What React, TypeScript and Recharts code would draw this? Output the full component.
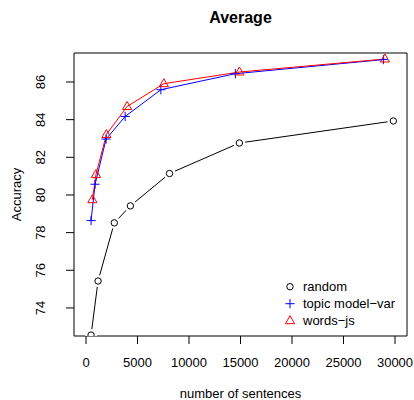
import React from 'react';
import { ComposedChart, Line, XAxis, YAxis, ReferenceArea } from 'recharts';

// number of sentences (x) and accuracy (y) per method
const randomX = [490, 1170, 2750, 4310, 8110, 14890, 29840];
const randomAcc = [72.56, 75.43, 78.52, 79.42, 81.14, 82.76, 83.93];
const topicX = [490, 880, 1950, 3800, 7270, 14500, 28870];
const topicAcc = [78.64, 80.57, 82.97, 84.17, 85.59, 86.44, 87.19];
const wordsX = [620, 970, 1980, 3990, 7560, 14890, 29020];
const wordsAcc = [79.75, 81.09, 83.21, 84.7, 85.91, 86.53, 87.22];

const xTicks = [0, 5000, 10000, 15000, 20000, 25000, 30000];
const yTicks = [74, 76, 78, 80, 82, 84, 86];
const xDomain: [number, number] = [-1165, 31165];
const yDomain: [number, number] = [72.51, 87.54];

const legendLabels = ['random', 'topic model\u2212var', 'words\u2212js'];

const FONT = '"Liberation Sans", Arial, Helvetica, sans-serif';
const BLUE = '#0000FF';
const RED = '#FF0000';

const toRows = (xs: number[], ys: number[]) => xs.map((x, i) => ({ x, y: ys[i] }));

const randomRows = toRows(randomX, randomAcc);
const topicRows = toRows(topicX, topicAcc);
const wordsRows = toRows(wordsX, wordsAcc);

const Circle = ({ cx, cy, gap }: { cx: number; cy: number; gap?: boolean }) => (
  <g>
    {gap && <circle cx={cx} cy={cy} r={6} fill="#fff" stroke="none" />}
    <circle cx={cx} cy={cy} r={3.2} fill="none" stroke="#000" strokeWidth={1} />
  </g>
);

const Plus = ({ cx, cy }: { cx: number; cy: number }) => (
  <path d={`M${cx - 4.6},${cy}H${cx + 4.6}M${cx},${cy - 4.6}V${cy + 4.6}`} stroke={BLUE} strokeWidth={1} fill="none" />
);

const Triangle = ({ cx, cy }: { cx: number; cy: number }) => (
  <path d={`M${cx},${cy - 5}L${cx - 4.6},${cy + 3}L${cx + 4.6},${cy + 3}Z`} stroke={RED} strokeWidth={1} fill="none" />
);

const XTick = (props: any) => {
  const { x, payload } = props;
  return (
    <text x={x} y={366.5} textAnchor="middle" fontSize={13} fontFamily={FONT} fill="#000">
      {payload.value}
    </text>
  );
};

const YTick = (props: any) => {
  const { y, payload } = props;
  return (
    <text x={45} y={y} transform={`rotate(-90, 45, ${y})`} textAnchor="middle" fontSize={13} fontFamily={FONT} fill="#000">
      {payload.value}
    </text>
  );
};

const App = () => {
  return (
    <div style={{ position: 'absolute', left: 0, top: 0, width: 414, height: 400, background: '#fff', fontFamily: FONT }}>
      <ComposedChart width={414} height={400} margin={{ top: 53, right: 7, left: 0, bottom: 0 }}>
        <XAxis
          type="number"
          dataKey="x"
          domain={xDomain}
          ticks={xTicks}
          allowDataOverflow
          height={64}
          axisLine={false}
          tickLine={{ stroke: '#000' }}
          tickSize={8}
          tick={<XTick />}
          interval={0}
        />
        <YAxis
          type="number"
          dataKey="y"
          domain={yDomain}
          ticks={yTicks}
          allowDataOverflow
          width={74}
          axisLine={false}
          tickLine={{ stroke: '#000' }}
          tickSize={8}
          tick={<YTick />}
          interval={0}
        />
        <ReferenceArea x1={xDomain[0]} x2={xDomain[1]} y1={yDomain[0]} y2={yDomain[1]} fill="none" fillOpacity={0} stroke="#000" strokeWidth={1} />
        <Line
          data={randomRows}
          dataKey="y"
          stroke="#000"
          strokeWidth={1}
          isAnimationActive={false}
          dot={(p: any) => <Circle key={`r${p.index}`} cx={p.cx} cy={p.cy} gap />}
          activeDot={false}
        />
        <Line
          data={topicRows}
          dataKey="y"
          stroke={BLUE}
          strokeWidth={1}
          isAnimationActive={false}
          dot={(p: any) => <Plus key={`t${p.index}`} cx={p.cx} cy={p.cy} />}
          activeDot={false}
        />
        <Line
          data={wordsRows}
          dataKey="y"
          stroke={RED}
          strokeWidth={1}
          isAnimationActive={false}
          dot={(p: any) => <Triangle key={`w${p.index}`} cx={p.cx} cy={p.cy} />}
          activeDot={false}
        />
      </ComposedChart>
      <svg width={414} height={400} style={{ position: 'absolute', left: 0, top: 0, pointerEvents: 'none' }}>
        <text x={240.5} y={22.7} textAnchor="middle" fontSize={16} fontWeight="bold" fontFamily={FONT} fill="#000">
          Average
        </text>
        <text x={240.5} y={397.5} textAnchor="middle" fontSize={13} fontFamily={FONT} fill="#000">
          number of sentences
        </text>
        <text x={21} y={194.5} transform="rotate(-90, 21, 194.5)" textAnchor="middle" fontSize={13} fontFamily={FONT} fill="#000">
          Accuracy
        </text>
        <Circle cx={290} cy={286.7} />
        <Plus cx={290} cy={303.7} />
        <Triangle cx={290} cy={320.7} />
        {legendLabels.map((label, i) => (
          <text key={label} x={303} y={291.3 + i * 17} fontSize={13} fontFamily={FONT} fill="#000">
            {label}
          </text>
        ))}
      </svg>
    </div>
  );
};

export default App;
